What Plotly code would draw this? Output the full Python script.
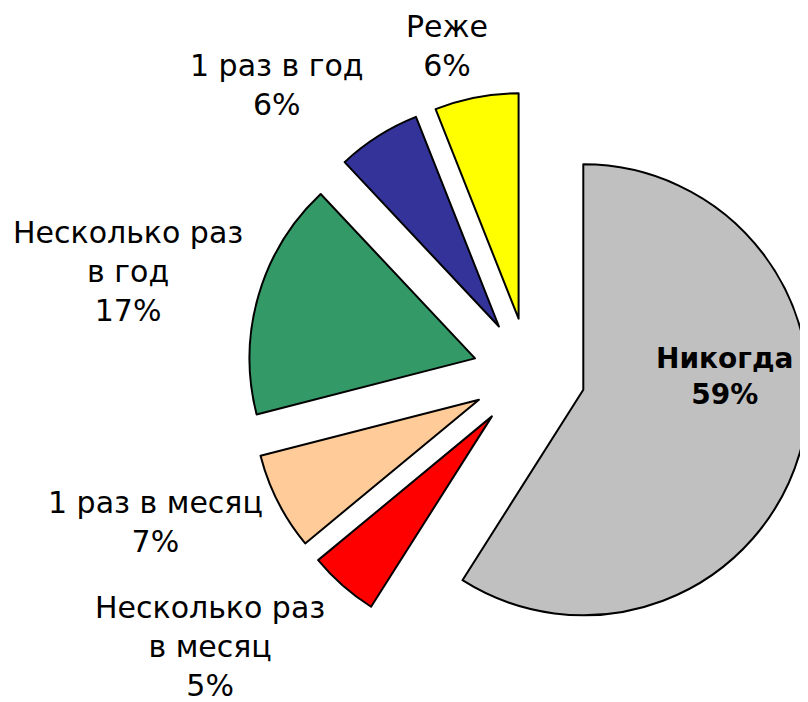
import plotly.graph_objects as go

# Данные
categories = ['Никогда', 'Несколько раз в месяц', '1 раз в месяц',
              'Несколько раз в год', '1 раз в год', 'Реже']
label_lines = ['Никогда', 'Несколько раз<br>в месяц', '1 раз в месяц',
               'Несколько раз<br>в год', '1 раз в год', 'Реже']
values = [59, 5, 7, 17, 6, 6]
colors = ['#C0C0C0', '#FF0000', '#FFCC99', '#339966', '#333399', '#FFFF00']

# позиции подписей (доли листа)
label_pos = [(0.887, 0.475), (0.250, 0.091), (0.183, 0.268),
             (0.149, 0.625), (0.333, 0.890), (0.543, 0.946)]

fig = go.Figure(go.Pie(
    labels=categories,
    values=values,
    sort=False,
    direction='clockwise',
    rotation=0,
    pull=[0.25] * len(values),
    marker=dict(colors=colors, line=dict(color='black', width=2)),
    textinfo='none',
    hoverinfo='label+percent',
    domain=dict(x=[0.296, 0.994], y=[0.077, 0.880]),
    showlegend=False,
))

for name, v, (px, py) in zip(label_lines, values, label_pos):
    bold = name == 'Никогда'
    txt = f'{name}<br>{v}%'
    if bold:
        txt = f'<b>{name}<br>{v}%</b>'
    fig.add_annotation(
        x=px, y=py, xref='paper', yref='paper',
        text=txt, showarrow=False,
        xanchor='center', yanchor='middle', align='center',
        font=dict(size=28 if bold else 30, color='black'),
    )

fig.update_layout(
    width=808,
    height=702,
    margin=dict(l=0, r=0, t=0, b=0),
    paper_bgcolor='white',
    plot_bgcolor='white',
    font=dict(family='DejaVu Sans', size=30, color='black'),
)

fig.write_html('out.html')
